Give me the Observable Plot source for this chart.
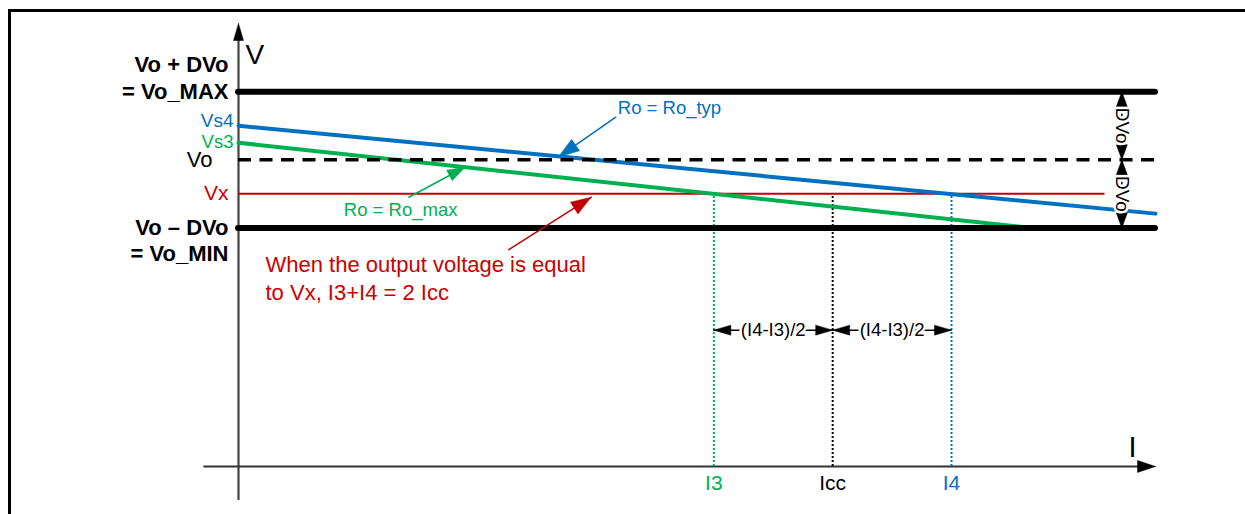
<!DOCTYPE html>
<html><head><meta charset="utf-8">
<script src="https://cdn.jsdelivr.net/npm/d3@7"></script>
<script src="https://cdn.jsdelivr.net/npm/@observablehq/plot@0.6"></script>
<style>
body{margin:0;background:#fff;}
#wrap{position:relative;width:1245px;height:514px;overflow:hidden;}
#chart{position:absolute;left:0;top:0;}
#frame{position:absolute;left:8px;top:9px;width:1300px;height:600px;border-left:3px solid #000;border-top:3px solid #000;pointer-events:none;}
</style></head>
<body><div id="wrap"><div id="chart"></div><div id="frame"></div></div>
<script>
// ---- data (abstract units) ----
const levelNames  = ["Vo_MAX", "Vo", "Vx", "Vo_MIN"];
const levelValues = [6, 5, 4.5, 4];
const levelLabels = ["= Vo_MAX", "Vo", "Vx", "Vo – DVo"];
const upperLabel  = "Vo + DVo";
const lowerLabel  = "= Vo_MIN";
const currentNames  = ["I3", "Icc", "I4"];
const currentValues = [4.8, 6.0, 7.2];
const startNames  = ["Vs4", "Vs3"];
const seriesNames = ["Ro = Ro_typ", "Ro = Ro_max"];
const typI = [0, 9.26], typV = [5.5, 4.21];
const maxI = [0, 8.0],  maxV = [5.25, 4.0];
const axisI = [-0.35, 9.26];   // current axis extent
const axisV = [0, 7];          // voltage axis extent
const axisCrossV = 0.5;        // where the current axis crosses
const vxEndI = 8.75;
const halfLabel = "(I4-I3)/2", halfV = 2.5;
const dvoLabel = "DVo", dvoI = 8.92;
const noteLines = ["When the output voltage is equal", "to Vx, I3+I4 = 2 Icc"];
const typArrowI = [3.81, 3.23], typArrowV = [5.625, 5.04];
const maxArrowI = [1.72, 2.29], maxArrowV = [4.45, 4.894];
const noteArrowI = [2.73, 3.56], noteArrowV = [3.68, 4.45];

const BLUE = "#0070C0", GREEN = "#00B050", RED = "#C00000", LRED = "#CC0000";
const FONT = "'Liberation Sans', Arial, sans-serif";

const xDomain = [0, 9.26], xRange = [238, 1155];
const yDomain = [0, 7],    yRange = [500, 23];
const kx = (xRange[1] - xRange[0]) / (xDomain[1] - xDomain[0]);
const ky = (yRange[0] - yRange[1]) / (yDomain[1] - yDomain[0]);

const [VoMax, Vo, Vx, VoMin] = levelValues;
const [I3, Icc, I4] = currentValues;

// filled arrowhead polygon, sized in pixels, converted back to data units
let hid = 0;
function head(tip, from, len, hw, color) {
  const id = hid++;
  const dxp = (tip[0] - from[0]) * kx, dyp = (tip[1] - from[1]) * ky;
  const L = Math.hypot(dxp, dyp), ux = dxp / L, uy = dyp / L;
  const tx = tip[0] * kx, ty = tip[1] * ky;
  const bx = tx - ux * len, by = ty - uy * len;
  const px = -uy, py = ux;
  return [[tx, ty], [bx + px * hw, by + py * hw], [bx - px * hw, by - py * hw], [tx, ty]]
    .map(([x, y]) => ({id, I: x / kx, V: y / ky, color}));
}
const heads = [
  ...head([0, axisV[1]], [0, axisV[0]], 17, 5, "#000"),
  ...head([axisI[1], axisCrossV], [axisI[0], axisCrossV], 18, 6, "#000"),
  ...head([dvoI, VoMax], [dvoI, Vo], 15, 5.5, "#000"),
  ...head([dvoI, Vo], [dvoI, VoMax], 15, 5.5, "#000"),
  ...head([dvoI, Vo], [dvoI, VoMin], 15, 5.5, "#000"),
  ...head([dvoI, VoMin], [dvoI, Vo], 15, 5.5, "#000"),
  ...head([I3, halfV], [Icc, halfV], 17, 5, "#000"),
  ...head([Icc, halfV], [I3, halfV], 17, 5, "#000"),
  ...head([Icc, halfV], [I4, halfV], 17, 5, "#000"),
  ...head([I4, halfV], [Icc, halfV], 17, 5, "#000"),
  ...head([typArrowI[1], typArrowV[1]], [typArrowI[0], typArrowV[0]], 21, 7, BLUE),
  ...head([maxArrowI[1], maxArrowV[1]], [maxArrowI[0], maxArrowV[0]], 18, 6, GREEN),
  ...head([noteArrowI[1], noteArrowV[1]], [noteArrowI[0], noteArrowV[0]], 20, 7, RED)
];

const pts = (I, V) => I.map((d, i) => ({I: d, V: V[i]}));
const T = (txt, o) => Plot.text([txt], {text: d => d, fontFamily: FONT, ...o});
const halo = {stroke: "white", strokeWidth: 5, paintOrder: "stroke", strokeLinejoin: "round"};

const chart = Plot.plot({
  width: 1245, height: 514, margin: 0,
  x: {domain: xDomain, range: xRange, axis: null},
  y: {domain: yDomain, range: yRange, axis: null},
  style: {fontFamily: FONT, background: "transparent", overflow: "visible"},
  marks: [
    // axes
    Plot.ruleX([0], {y1: axisV[0], y2: axisV[1] - 0.1, stroke: "#444", strokeWidth: 2.2}),
    Plot.ruleY([axisCrossV], {x1: axisI[0], x2: axisI[1] - 0.1, stroke: "#333", strokeWidth: 2}),
    // dotted current markers
    Plot.ruleX([I3], {y1: axisCrossV, y2: Vx, stroke: GREEN, strokeWidth: 2, strokeDasharray: "2,2"}),
    Plot.ruleX([Icc], {y1: axisCrossV, y2: Vx - 0.03, stroke: "#000", strokeWidth: 2, strokeDasharray: "2,2"}),
    Plot.ruleX([I4], {y1: axisCrossV, y2: Vx, stroke: BLUE, strokeWidth: 2, strokeDasharray: "2,2"}),
    // red Vx level
    Plot.ruleY([Vx], {x1: 0, x2: vxEndI, stroke: RED, strokeWidth: 2}),
    // output characteristics
    Plot.line(pts(maxI, maxV), {x: "I", y: "V", stroke: GREEN, strokeWidth: 4}),
    Plot.line(pts(typI, typV), {x: "I", y: "V", stroke: BLUE, strokeWidth: 4}),
    // limits and nominal
    Plot.ruleY([VoMax, VoMin], {x1: 0, x2: axisI[1], stroke: "#000", strokeWidth: 6, strokeLinecap: "round"}),
    Plot.ruleY([Vo], {x1: 0, x2: axisI[1], stroke: "#000", strokeWidth: 3.5, strokeDasharray: "13,8.5"}),
    // DVo dimension arrows
    Plot.ruleX([dvoI], {y1: VoMin, y2: VoMax, stroke: "#000", strokeWidth: 1.5}),
    // half-difference arrows
    Plot.ruleY([halfV], {x1: I3, x2: I4, stroke: "#000", strokeWidth: 1.5}),
    // annotation arrows
    Plot.line(pts(typArrowI, typArrowV), {x: "I", y: "V", stroke: BLUE, strokeWidth: 1.5}),
    Plot.line(pts(maxArrowI, maxArrowV), {x: "I", y: "V", stroke: GREEN, strokeWidth: 1.5}),
    Plot.line(pts(noteArrowI, noteArrowV), {x: "I", y: "V", stroke: RED, strokeWidth: 1.5}),
    Plot.line(heads, {x: "I", y: "V", z: "id", fill: "color", stroke: "color", strokeWidth: 0.5}),
    // texts on dimension arrows
    T(halfLabel, {x: (I3 + Icc) / 2, y: halfV, fontSize: 18.5, fill: "#000", ...halo}),
    T(halfLabel, {x: (Icc + I4) / 2, y: halfV, fontSize: 18.5, fill: "#000", ...halo}),
    T(dvoLabel, {x: dvoI, y: (VoMax + Vo) / 2, rotate: 90, fontSize: 19, fill: "#000", ...halo}),
    T(dvoLabel, {x: dvoI, y: (Vo + VoMin) / 2, rotate: 90, fontSize: 19, fill: "#000", ...halo}),
    // left labels
    T(upperLabel, {x: 0, y: VoMax, dx: -10, dy: -26.5, textAnchor: "end", fontSize: 22, fontWeight: "bold", fill: "#000"}),
    T(levelLabels[0], {x: 0, y: VoMax, dx: -10, textAnchor: "end", fontSize: 22, fontWeight: "bold", fill: "#000"}),
    T(startNames[0], {x: 0, y: typV[0], dx: -5, dy: -5, textAnchor: "end", fontSize: 19, fill: BLUE}),
    T(startNames[1], {x: 0, y: maxV[0], dx: -5, dy: -1, textAnchor: "end", fontSize: 18.5, fill: GREEN}),
    T(levelLabels[1], {x: 0, y: Vo, dx: -26, textAnchor: "end", fontSize: 22, fill: "#000"}),
    T(levelLabels[2], {x: 0, y: Vx, dx: -10, dy: -1, textAnchor: "end", fontSize: 21, fill: LRED}),
    T(levelLabels[3], {x: 0, y: VoMin, dx: -10, textAnchor: "end", fontSize: 22, fontWeight: "bold", fill: "#000"}),
    T(lowerLabel, {x: 0, y: VoMin, dx: -10, dy: 26, textAnchor: "end", fontSize: 22, fontWeight: "bold", fill: "#000"}),
    // axis names
    T("V", {x: 0, y: axisV[1], dx: 7, dy: 32, textAnchor: "start", fontSize: 28, fill: "#000"}),
    T("I", {x: axisI[1], y: axisCrossV, dx: -23, dy: -19, fontSize: 29, fill: "#000"}),
    // current labels
    T(currentNames[0], {x: I3, y: axisCrossV, dy: 17, fontSize: 21, fill: GREEN}),
    T(currentNames[1], {x: Icc, y: axisCrossV, dy: 17, fontSize: 21, fill: "#000"}),
    T(currentNames[2], {x: I4, y: axisCrossV, dy: 17, fontSize: 21, fill: BLUE}),
    // series annotations
    T(seriesNames[0], {x: typArrowI[0], y: typArrowV[0], dx: 2, dy: -9, textAnchor: "start", fontSize: 18.5, fill: BLUE}),
    T(seriesNames[1], {x: maxArrowI[0], y: maxArrowV[0], dx: -65, dy: 13, textAnchor: "start", fontSize: 18.5, fill: GREEN}),
    // note
    T(noteLines[0], {x: 0, y: VoMin, dx: 27, dy: 37.3, textAnchor: "start", fontSize: 22, fill: LRED}),
    T(noteLines[1], {x: 0, y: VoMin, dx: 27, dy: 65, textAnchor: "start", fontSize: 22, fill: LRED})
  ]
});
document.getElementById("chart").appendChild(chart);
</script>
</body></html>
